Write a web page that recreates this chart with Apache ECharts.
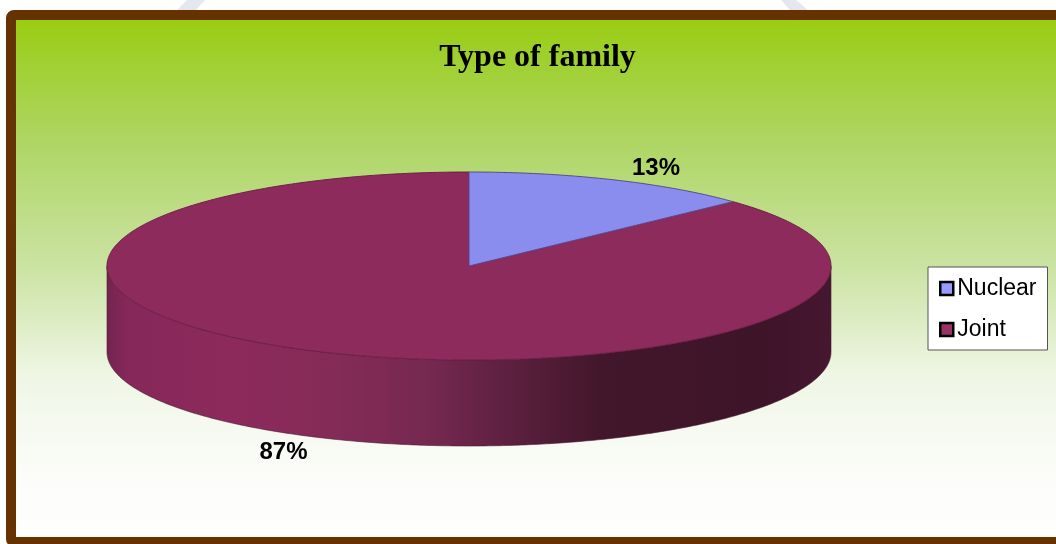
<!DOCTYPE html>
<html><head><meta charset="utf-8">
<style>html,body{margin:0;padding:0;background:#fff}#c{width:1056px;height:544px}</style>
<script src="https://cdn.jsdelivr.net/npm/echarts@6/dist/echarts.min.js"></script>
</head><body><div id="c"></div>
<script>
const titleText = 'Type of family';
const categories = ['Nuclear', 'Joint'];
const values = [13, 87];
const labels = ['13%', '87%'];
const colors = ['#8a8cee', '#8e2b5d'];
const legendColors = ['#9999ff', '#993366'];

const cx = 469, cy = 266, rx = 362, ry = 94, depth = 86;
const total = values.reduce((a, b) => a + b, 0);
function pt(t, dy) { return [cx + rx * Math.sin(t), cy - ry * Math.cos(t) + (dy || 0)]; }
function arc(a0, a1, dy) {
  const n = Math.max(2, Math.ceil(Math.abs(a1 - a0) / 0.01)), out = [];
  for (let i = 0; i <= n; i++) out.push(pt(a0 + (a1 - a0) * i / n, dy));
  return out;
}
const wallGrad = {
  type: 'linear', x: 0, y: 0, x2: 1, y2: 0,
  colorStops: [
    { offset: 0, color: '#74244e' }, { offset: 0.03, color: '#86285a' }, { offset: 0.18, color: '#8c2a5b' },
    { offset: 0.32, color: '#842b57' }, { offset: 0.45, color: '#742850' }, { offset: 0.55, color: '#5e2040' },
    { offset: 0.68, color: '#43172b' }, { offset: 0.9, color: '#3e1428' }, { offset: 1, color: '#451730' }
  ]
};
function sliceSeries(i) {
  const before = values.slice(0, i).reduce((a, b) => a + b, 0);
  return {
    type: 'custom', name: categories[i], coordinateSystem: 'none', z: 5,
    itemStyle: { color: legendColors[i] },
    data: [[before, values[i]]],
    renderItem(params, api) {
      const a0 = api.value(0) / total * 2 * Math.PI;
      const a1 = (api.value(0) + api.value(1)) / total * 2 * Math.PI;
      const children = [];
      const s0 = Math.max(a0, Math.PI / 2), s1 = Math.min(a1, Math.PI * 1.5);
      if (s1 > s0) {
        const wall = arc(s0, s1, 0).concat(arc(s1, s0, depth));
        children.push({ type: 'polygon', shape: { points: wall },
          style: { fill: wallGrad, stroke: '#4a1a33', lineWidth: 0.6 } });
      }
      children.push({ type: 'polygon', shape: { points: [[cx, cy]].concat(arc(a0, a1, 0)) },
        style: { fill: colors[i], stroke: i === 0 ? '#5a4a8e' : '#6e1f48', lineWidth: 1 } });
      return { type: 'group', children };
    }
  };
}
const frame = { type: 'rect', z: 0, silent: true,
  shape: { x: 11, y: 15, width: 1100, height: 527, r: 3 },
  style: { stroke: '#663300', lineWidth: 10,
    fill: { type: 'linear', x: 0, y: 0, x2: 0, y2: 1, colorStops: [
      { offset: 0, color: '#99cc0a' }, { offset: 0.1, color: '#a0d032' }, { offset: 0.26, color: '#b0d668' },
      { offset: 0.48, color: '#cbe3a3' }, { offset: 0.68, color: '#eff6e5' }, { offset: 0.85, color: '#fbfcf8' }, { offset: 1, color: '#ffffff' }
    ] } } };
const mark = (points) => ({ type: 'polygon', z: 0, silent: true, shape: { points }, style: { fill: '#e4e8ee' } });
const txt = (s, x, y, font) => ({ type: 'text', z: 10, silent: true, style: {
  text: s, x, y, fill: '#000', font, textAlign: 'center', textVerticalAlign: 'middle' } });
const chart = echarts.init(document.getElementById('c'), null, { renderer: 'canvas' });
chart.setOption({
  animation: false,
  backgroundColor: '#fff',
  title: { text: titleText, left: 532.5, top: 37, textAlign: 'center',
    textStyle: { fontFamily: 'Liberation Serif', fontWeight: 'bold', fontSize: 32, color: '#000' } },
  legend: { data: categories, orient: 'vertical', left: 928, top: 267,
    padding: [10, 11, 9, 11], itemGap: 18, itemWidth: 13, itemHeight: 13, icon: 'rect',
    backgroundColor: '#fff', borderColor: '#555', borderWidth: 1, selectedMode: false,
    itemStyle: { borderColor: '#000', borderWidth: 2.5 },
    textStyle: { fontFamily: 'Liberation Sans', fontSize: 23, color: '#000', padding: [0,0,0,-1] } },
  graphic: [frame,
    mark([[177,10],[187,0],[205,0],[196,10]]),
    mark([[781,0],[796,0],[808,10],[790,10]]),
    txt(labels[0], 656, 168, 'bold 24px "Liberation Sans"'),
    txt(labels[1], 283.5, 452, 'bold 24px "Liberation Sans"')],
  series: [sliceSeries(1), sliceSeries(0)]
});
</script></body></html>
